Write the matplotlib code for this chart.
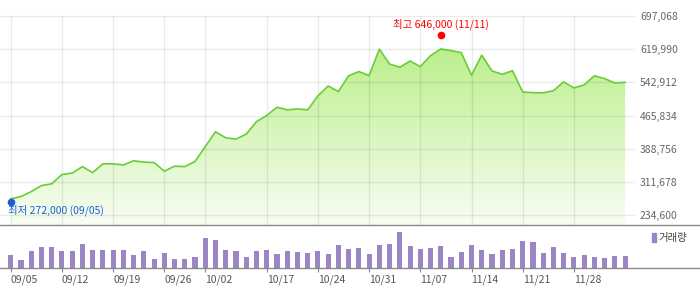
import numpy as np
import matplotlib
matplotlib.use('Agg')
import matplotlib.pyplot as plt
from matplotlib.patches import Rectangle
from matplotlib.lines import Line2D
from matplotlib.colors import LinearSegmentedColormap
from matplotlib.transforms import offset_copy

plt.rcParams['font.family'] = ['Noto Sans CJK KR', 'DejaVu Sans']

# trading days (09/05 ~ 12/05)
dates = ['09/05',
         '09/08', '09/09', '09/10', '09/11', '09/12',
         '09/15', '09/16', '09/17', '09/18', '09/19',
         '09/22', '09/23', '09/24', '09/25', '09/26',
         '09/29', '09/30', '10/01', '10/02',
         '10/10',
         '10/13', '10/14', '10/15', '10/16', '10/17',
         '10/20', '10/21', '10/22', '10/23', '10/24',
         '10/27', '10/28', '10/29', '10/30', '10/31',
         '11/03', '11/04', '11/05', '11/06', '11/07',
         '11/10', '11/11', '11/12', '11/13', '11/14',
         '11/17', '11/18', '11/19', '11/20', '11/21',
         '11/24', '11/25', '11/26', '11/27', '11/28',
         '12/01', '12/02', '12/03', '12/04', '12/05']

close = [272000, 277500, 289000, 303000, 307000, 328500, 332000, 347000, 333000, 353500,
         353500, 351000, 360500, 357500, 356500, 336500, 348000, 347000, 359000, 393500,
         428000, 414000, 411000, 422500, 451500, 466000, 485000, 479000, 481000, 479000,
         511500, 534500, 521500, 558000, 568000, 558500, 620000, 585500, 578000, 592500,
         579500, 605000, 620500, 616500, 612000, 559500, 606000, 569500, 561500, 570000,
         520500, 519000, 518500, 523500, 544000, 530000, 537000, 558000, 551500, 541500,
         543000]

volume = [40, 25, 52, 64, 64, 52, 52, 73, 55, 55,
          55, 55, 40, 52, 28, 46, 28, 28, 34, 91,
          85, 55, 52, 34, 52, 55, 43, 52, 49, 46,
          52, 43, 70, 58, 61, 43, 70, 73, 109, 67,
          58, 61, 67, 34, 49, 70, 55, 43, 55, 58,
          82, 79, 46, 64, 46, 34, 40, 34, 31, 37,
          37]

y_ticks = [234600, 311678, 388756, 465834, 542912, 619990, 697068]
x_labels = ['09/05', '09/12', '09/19', '09/26', '10/02', '10/17',
            '10/24', '10/31', '11/07', '11/14', '11/21', '11/28']

hi_price, hi_date = 646000, '11/11'
lo_price, lo_date = 272000, '09/05'

x = np.arange(len(dates))
xt = [dates.index(d) for d in x_labels]

W, H = 700, 289
fig = plt.figure(figsize=(7, 2.89), dpi=100)

# px helpers
def px(v):
    return v / W

def py(v):
    return 1 - v / H

xl = (-10.7 / 10.24, (635 - 10.7) / 10.24)
ax = fig.add_axes([0, py(225), px(635), py(0) - py(225)])
ppx = (y_ticks[-1] - y_ticks[0]) / (215 - 16)
ax.set_xlim(*xl)
ax.set_ylim(y_ticks[0] - 10 * ppx, y_ticks[-1] + 16 * ppx)

ymin, ymax = ax.get_ylim()

# gradient fill under price
cmap = LinearSegmentedColormap.from_list('g', ['#f8fdf4', '#bcef8c'])
grad = np.linspace(0, 1, 256).reshape(-1, 1)
top = max(close)
im = ax.imshow(grad, cmap=cmap, origin='lower', aspect='auto',
               extent=[x[0], x[-1], ymin, top], zorder=1)
poly = ax.fill_between(x, close, ymin, color='none', lw=0)
im.set_clip_path(poly.get_paths()[0], transform=ax.transData)

gridc = (0, 0, 0, 0.08)
ax.hlines(y_ticks, xl[0], xl[1], color=gridc, lw=1, zorder=2)
ax.vlines(xt, ymin, y_ticks[-1], color=gridc, lw=1, zorder=2)
ax.plot(x, close, color='#6acd38', lw=1.2, zorder=3)

ax.set_yticks(y_ticks)
ax.set_yticklabels([f'{v:,}' for v in y_ticks])
ax.yaxis.tick_right()
ax.tick_params(axis='y', length=0, pad=3.6, labelsize=7.5, labelcolor='#666666')
ax.set_xticks([])
for s in ax.spines.values():
    s.set_visible(False)

# high / low markers
ih = int(np.argmax(close))
il = int(np.argmin(close))
ax.plot(ih, hi_price, 'o', color='#ff0000', ms=4.5, zorder=5,
        transform=offset_copy(ax.transData, fig=fig, x=0, y=2, units='points'))
ax.annotate(f'최고 {hi_price:,} ({hi_date})', (ih, hi_price), xytext=(0, 10),
            textcoords='offset points', ha='center', va='center',
            color='#ff0000', fontsize=7.5, zorder=5)
ax.plot(il, lo_price, 'o', color='#1a5fd6', ms=4.5, zorder=5, clip_on=False,
        transform=offset_copy(ax.transData, fig=fig, x=0, y=-2, units='points'))
ax.annotate(f'최저 {lo_price:,} ({lo_date})', (il, lo_price), xytext=(-2, -8.5),
            textcoords='offset points', ha='left', va='center',
            color='#1a5fd6', fontsize=7.5, zorder=5)

# volume panel
vx = fig.add_axes([0, py(268.3), px(635), py(225) - py(268.3)])
vx.set_xlim(*xl)
vx.set_ylim(0, 130)
vx.bar(x, volume, width=0.5, color='#9b85c5', zorder=2)
vx.set_yticks([])
vx.set_xticks(xt)
vx.set_xticklabels(x_labels, ha='left')
vx.tick_params(axis='x', length=3, color='#888888', labelsize=7.5,
               labelcolor='#555555', pad=1.5)
for s in vx.spines.values():
    s.set_visible(False)
vx.set_facecolor('none')

# panel border lines
fig.add_artist(Line2D([0, 1], [py(225), py(225)], color='#8a8a8a', lw=1))
fig.add_artist(Line2D([0, 1], [py(268.3), py(268.3)], color='#8a8a8a', lw=1))

# legend
fig.add_artist(Rectangle((px(652), py(242)), px(4), py(233) - py(242),
                         color='#9b85c5', transform=fig.transFigure))
fig.text(px(658), py(237.5), '거래량', fontsize=7.5, color='#444444',
         va='center', ha='left')

fig.savefig('out.png', dpi=100)
